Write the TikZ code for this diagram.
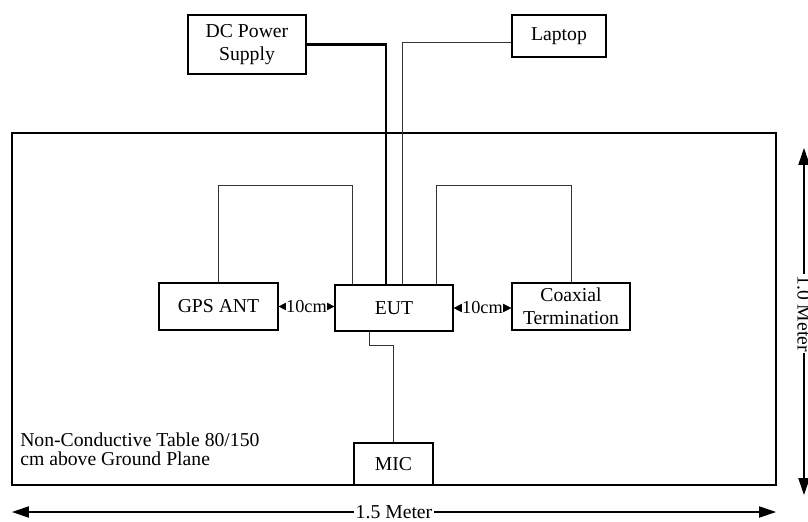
\documentclass[tikz,border=0pt]{standalone}
\usepackage{fontspec}
\setmainfont{Liberation Serif}
\usetikzlibrary{calc,arrows.meta}

\tikzset{
    unit/.style={draw, line width=0.8pt, fill=white, inner sep=0pt, align=center,
        font=\fontsize{14}{16}\selectfont},
    size/.style 2 args={minimum width=#1*0.025cm, minimum height=#2*0.025cm},
    wire/.style={draw=black!80, line width=0.7pt},
    powerwire/.style={draw=black, line width=1.7pt},
    gaparrow/.style={line width=0.6pt, {Triangle[length=6pt,width=6pt]}-{Triangle[length=6pt,width=6pt]}},
    dimarrow/.style={line width=0.8pt, {Triangle[length=12pt,width=8pt]}-{Triangle[length=12pt,width=8pt]}},
    dimlabel/.style={fill=white, inner sep=1pt, font=\fontsize{14}{16}\selectfont}
}

\begin{document}
\begin{tikzpicture}[x=0.025cm, y=-0.025cm]
    \useasboundingbox (0,0) rectangle (808,521);

    % Draw the table
    \draw[line width=1.6pt] (12,133) rectangle (776,485);

    % Units on and off the table
    \node[unit, size={118}{59}] (dc) at (247,44.5) {DC Power\\Supply};
    \node[unit, size={94}{42}] (laptop) at (559,36) {Laptop};
    \node[unit, size={119}{47}] (gps) at (218.5,306.5) {GPS ANT};
    \node[unit, size={118}{46}] (eut) at (394,308) {EUT};
    \node[unit, size={118}{47}] (coax) at (571,306.5) {Coaxial\\Termination};
    \node[unit, size={79}{42}] (mic) at (393.5,464) {MIC};

    % Cables to the EUT
    \draw[powerwire] (dc.east) -| ($(eut.north)+(-8,0)$);
    \draw[wire] ($(laptop.west)+(0,6)$) -| ($(eut.north)+(8,0)$);
    \draw[wire] (gps.north) -- ++(0,-97) -| ($(eut.north)+(-42,0)$);
    \draw[wire] ($(eut.north)+(42,0)$) -- ++(0,-99) -| (coax.north);
    \draw[wire] ($(eut.south)+(-25,0)$) -- ++(0,14) -| (mic.north);

    % Spacing between the units
    \draw[gaparrow] (gps.east) -- (gps.east -| eut.west)
        node[midway, dimlabel, inner sep=0pt, font=\fontsize{13}{15}\selectfont] (gapl) {10cm};
    \draw[gaparrow] (eut.east) -- (eut.east -| coax.west)
        node[midway, dimlabel, inner sep=0pt, font=\fontsize{13}{15}\selectfont] (gapr) {10cm};

    % Table note
    \node[anchor=west, align=left, inner sep=0pt, font=\fontsize{14}{13.5}\selectfont] (note) at (20,449.5)
        {Non-Conductive Table 80/150\\cm above Ground Plane};

    % Table dimensions
    \coordinate (wl) at (12,512);
    \coordinate (wr) at (776,512);
    \draw[dimarrow] (wl) -- (wr) node[midway, dimlabel] (width) {1.5 Meter};
    \coordinate (dt) at (804,148);
    \coordinate (db) at (804,495);
    \draw[dimarrow] (dt) -- (db) node[pos=0.477, dimlabel, rotate=-90] (depth) {1.0 Meter};
\end{tikzpicture}
\end{document}
